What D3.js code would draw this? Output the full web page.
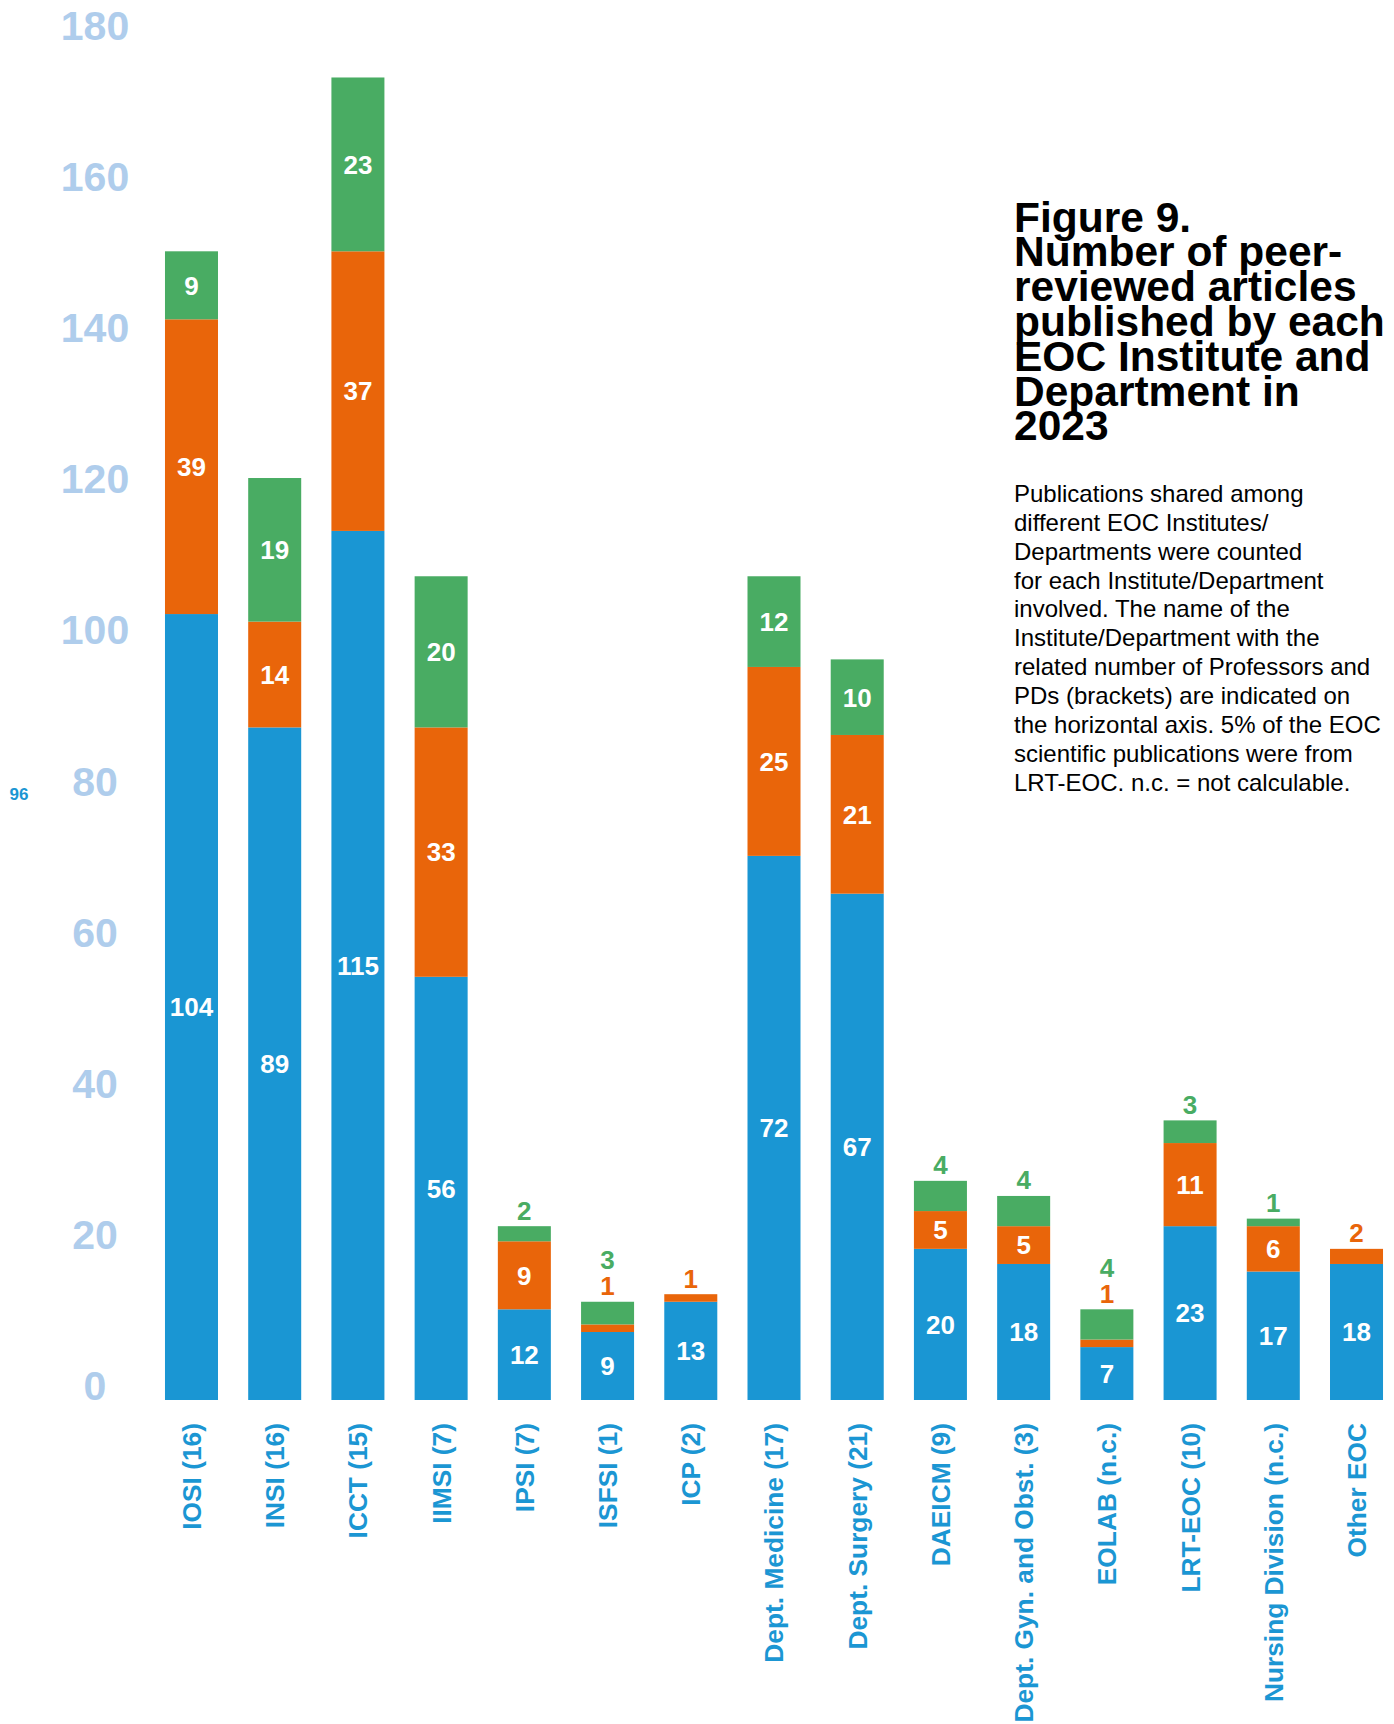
<!DOCTYPE html>
<html>
<head>
<meta charset="utf-8">
<script src="https://cdn.jsdelivr.net/npm/d3@7"></script>
<style>
  html, body { margin: 0; padding: 0; background: #ffffff; }
  svg { display: block; font-family: "Liberation Sans", Arial, Helvetica, sans-serif; }
</style>
</head>
<body>
<svg id="chart" width="1394" height="1724"></svg>
<script>
const categories = ["IOSI (16)", "INSI (16)", "ICCT (15)", "IIMSI (7)", "IPSI (7)", "ISFSI (1)", "ICP (2)",
  "Dept. Medicine (17)", "Dept. Surgery (21)", "DAEICM (9)", "Dept. Gyn. and Obst. (3)", "EOLAB (n.c.)",
  "LRT-EOC (10)", "Nursing Division (n.c.)", "Other EOC"];
const blueValues   = [104, 89, 115, 56, 12, 9, 13, 72, 67, 20, 18, 7, 23, 17, 18];
const orangeValues = [39, 14, 37, 33, 9, 1, 1, 25, 21, 5, 5, 1, 11, 6, 2];
const greenValues  = [9, 19, 23, 20, 2, 3, 0, 12, 10, 4, 4, 4, 3, 1, 0];
const seriesKeys = ["blue", "orange", "green"];
const yTicks = [0, 20, 40, 60, 80, 100, 120, 140, 160, 180];
const sideNote = "96";
const titleLines = ["Figure 9.", "Number of peer-", "reviewed articles", "published by each",
  "EOC Institute and", "Department in", "2023"];
const bodyLines = ["Publications shared among", "different EOC Institutes/", "Departments were counted",
  "for each Institute/Department", "involved. The name of the", "Institute/Department with the",
  "related number of Professors and", "PDs (brackets) are indicated on", "the horizontal axis. 5% of the EOC",
  "scientific publications were from", "LRT-EOC. n.c. = not calculable."];

const colors = { blue: "#1a96d3", orange: "#e9650a", green: "#49ac63" };
const tickColor = "#afcdec";
const axisLabelColor = "#1b96d3";

const rows = categories.map((c, i) => ({ cat: c, blue: blueValues[i], orange: orangeValues[i], green: greenValues[i] }));

const svg = d3.select("#chart");

const x = d3.scaleBand().domain(categories).range([150, 1398]).paddingInner(0.363).paddingOuter(0.18);
const y = d3.scaleLinear().domain([0, 180]).range([1400, 39.7]);

const stacked = d3.stack().keys(seriesKeys)(rows);

// bars
const g = svg.append("g");
stacked.forEach(layer => {
  g.selectAll(null).data(layer).join("rect")
    .attr("x", d => x(d.data.cat))
    .attr("width", x.bandwidth())
    .attr("y", d => y(d[1]))
    .attr("height", d => Math.max(0, y(d[0]) - y(d[1])))
    .attr("fill", colors[layer.key]);
});

// inside labels
const labelSize = 26;
stacked.forEach(layer => {
  layer.forEach(d => {
    const v = d[1] - d[0];
    if (layer.key === "blue" || v >= 5) {
      svg.append("text")
        .attr("x", x(d.data.cat) + x.bandwidth() / 2)
        .attr("y", (y(d[0]) + y(d[1])) / 2)
        .attr("dy", "0.36em")
        .attr("text-anchor", "middle")
        .attr("font-weight", "bold")
        .attr("font-size", labelSize)
        .attr("fill", "#ffffff")
        .text(v);
    }
  });
});

// outside labels (small segments), stacked above the bar
rows.forEach((r, i) => {
  const total = r.blue + r.orange + r.green;
  const top = y(total);
  let k = 0;
  ["orange", "green"].forEach(key => {
    const v = r[key];
    if (v > 0 && v < 5) {
      svg.append("text")
        .attr("x", x(r.cat) + x.bandwidth() / 2)
        .attr("y", top - 16 - k * 26)
        .attr("dy", "0.36em")
        .attr("text-anchor", "middle")
        .attr("font-weight", "bold")
        .attr("font-size", labelSize)
        .attr("fill", colors[key])
        .text(v);
      k++;
    }
  });
});

// y axis (labels only)
const yAxis = d3.axisLeft(y).tickValues(yTicks).tickSize(0).tickPadding(0);
const yg = svg.append("g").attr("transform", "translate(95,-2)").call(yAxis);
yg.select(".domain").remove();
yg.selectAll("text")
  .attr("x", 0)
  .attr("dy", "0.04em")
  .attr("text-anchor", "middle")
  .attr("font-family", "'Liberation Sans', Arial, sans-serif")
  .attr("font-weight", "bold")
  .attr("font-size", 41)
  .attr("fill", tickColor);

// x axis labels (rotated)
const xAxis = d3.axisBottom(x).tickSize(0).tickPadding(0);
const xg = svg.append("g").attr("transform", "translate(0,1423)").call(xAxis);
xg.select(".domain").remove();
xg.selectAll("text")
  .attr("transform", "rotate(-90)")
  .attr("x", 0)
  .attr("y", 0)
  .attr("dy", "0.36em")
  .attr("text-anchor", "end")
  .attr("font-family", "'Liberation Sans', Arial, sans-serif")
  .attr("font-weight", "bold")
  .attr("font-size", 26.3)
  .attr("fill", axisLabelColor);

// side note
svg.append("text")
  .attr("x", 19).attr("y", 800)
  .attr("text-anchor", "middle")
  .attr("font-weight", "bold")
  .attr("font-size", 17)
  .attr("fill", axisLabelColor)
  .text(sideNote);

// title
const title = svg.append("text")
  .attr("x", 1014).attr("y", 231.5)
  .attr("font-weight", "bold")
  .attr("font-size", 42.5)
  .attr("fill", "#000000");
titleLines.forEach((t, i) => {
  title.append("tspan").attr("x", 1014).attr("y", 231.5 + i * 34.8).text(t);
});

// body
const body = svg.append("text")
  .attr("x", 1014).attr("y", 502)
  .attr("font-size", 24)
  .attr("fill", "#000000");
bodyLines.forEach((t, i) => {
  body.append("tspan").attr("x", 1014).attr("y", 502 + i * 28.85).text(t);
});
</script>
</body>
</html>
